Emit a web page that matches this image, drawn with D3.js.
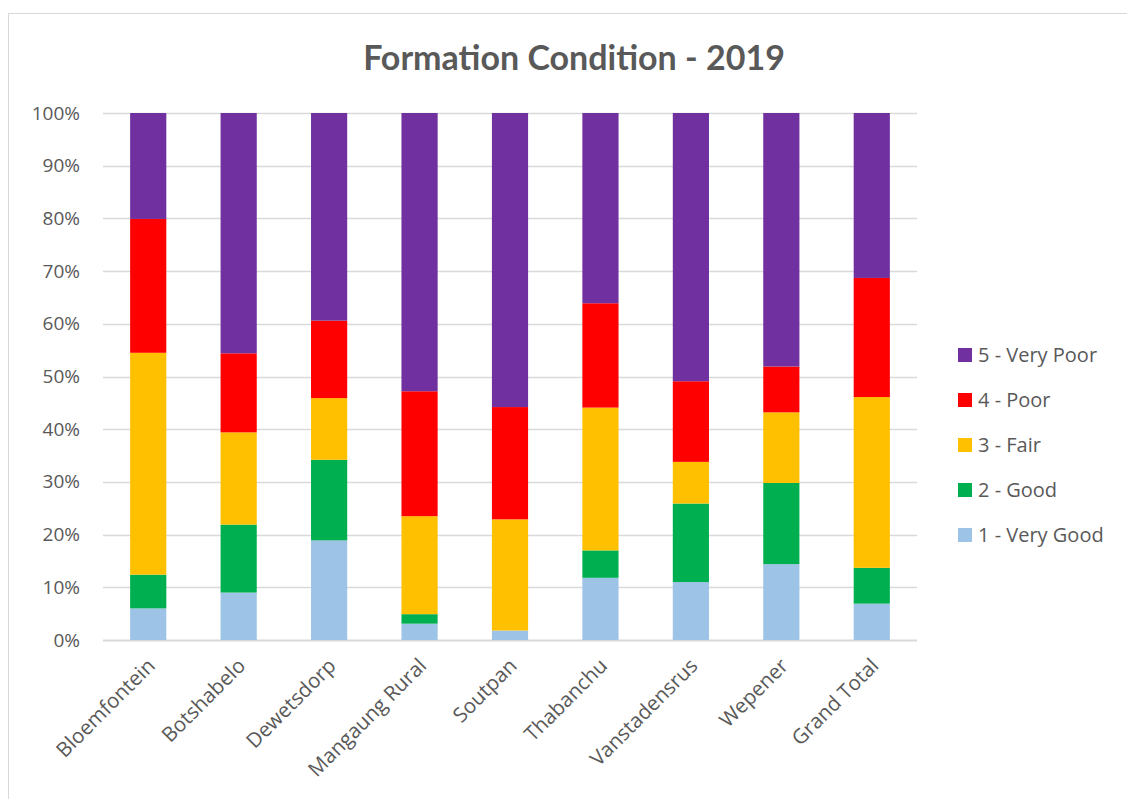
<!DOCTYPE html>
<html lang="en">
<head>
    <meta charset="UTF-8">
    <title>Formation Condition - 2019</title>
    <script src="https://d3js.org/d3.v7.min.js"></script>
    <style>
        body {
            margin: 0;
            padding: 0;
            background: white;
            font-family: 'Open Sans', Lato, sans-serif;
        }
    </style>
</head>
<body>
    <div id="chart"></div>
    <script>
        // data (percent of each town)
        var towns = ["Bloemfontein", "Botshabelo", "Dewetsdorp", "Mangaung Rural", "Soutpan",
                     "Thabanchu", "Vanstadensrus", "Wepener", "Grand Total"];
        var conditions = ["1 - Very Good", "2 - Good", "3 - Fair", "4 - Poor", "5 - Very Poor"];
        var veryGood = [6.0, 9.0, 18.9, 3.1, 1.8, 11.8, 11.0, 14.4, 6.9];
        var good     = [6.4, 12.9, 15.3, 1.8, 0.0, 5.2, 14.9, 15.4, 6.8];
        var fair     = [42.1, 17.5, 11.7, 18.6, 21.1, 27.1, 7.9, 13.4, 32.4];
        var poor     = [25.4, 15.0, 14.7, 23.7, 21.3, 19.8, 15.3, 8.7, 22.6];
        var veryPoor = [20.1, 45.6, 39.4, 52.8, 55.8, 36.1, 50.9, 48.1, 31.3];
        var yTicks = [0, 10, 20, 30, 40, 50, 60, 70, 80, 90, 100];

        var colors = ["#9DC3E6", "#00B050", "#FFC000", "#FF0000", "#7030A0"];

        var width = 1127;
        var height = 799;
        var plotLeft = 103, plotRight = 917, plotTop = 113, plotBottom = 640;

        // build rows for the stack
        var rows = towns.map(function(t, i) {
            var r = {town: t};
            r[conditions[0]] = veryGood[i];
            r[conditions[1]] = good[i];
            r[conditions[2]] = fair[i];
            r[conditions[3]] = poor[i];
            r[conditions[4]] = veryPoor[i];
            return r;
        });

        var stacked = d3.stack().keys(conditions)(rows);

        var xScale = d3.scaleBand()
            .domain(towns)
            .range([plotLeft, plotRight])
            .paddingInner(0.6)
            .paddingOuter(0.3);

        var yScale = d3.scaleLinear()
            .domain([0, 100])
            .range([plotBottom, plotTop]);

        var colorScale = d3.scaleOrdinal()
            .domain(conditions)
            .range(colors);

        var svg = d3.select("#chart").append("svg")
            .attr("width", width)
            .attr("height", height);

        // chart border
        svg.append("rect")
            .attr("x", 8.5)
            .attr("y", 13.5)
            .attr("width", width)
            .attr("height", height)
            .style("fill", "none")
            .style("stroke", "#d9d9d9")
            .style("stroke-width", 1);

        svg.append("text")
            .attr("x", 574)
            .attr("y", 70)
            .attr("text-anchor", "middle")
            .style("font-family", "Lato, sans-serif")
            .style("font-size", "34px")
            .style("font-weight", "bold")
            .style("fill", "#595959")
            .text("Formation Condition - 2019");

        // gridlines
        svg.append("g")
            .selectAll("line")
            .data(yTicks)
            .enter()
            .append("line")
            .attr("x1", plotLeft)
            .attr("x2", plotRight)
            .attr("y1", d => Math.round(yScale(d)) + 0.5)
            .attr("y2", d => Math.round(yScale(d)) + 0.5)
            .style("stroke", "#d9d9d9")
            .style("stroke-width", d => d === 0 ? 2 : 1.5);

        var yAxis = d3.axisLeft(yScale)
            .tickValues(yTicks)
            .tickFormat(d => d + "%")
            .tickSize(0)
            .tickPadding(23);

        svg.append("g")
            .attr("transform", "translate(" + plotLeft + ",0)")
            .call(yAxis)
            .call(g => g.select(".domain").remove())
            .selectAll("text")
            .style("font-family", "'Open Sans', sans-serif")
            .style("font-size", "19px")
            .style("fill", "#595959");

        // stacked bars
        svg.append("g")
            .selectAll("g")
            .data(stacked)
            .enter()
            .append("g")
            .style("fill", d => colorScale(d.key))
            .selectAll("rect")
            .data(d => d)
            .enter()
            .append("rect")
            .attr("x", d => xScale(d.data.town))
            .attr("y", d => yScale(d[1]))
            .attr("width", xScale.bandwidth())
            .attr("height", d => yScale(d[0]) - yScale(d[1]));

        // rotated category labels
        svg.append("g")
            .selectAll("text")
            .data(towns)
            .enter()
            .append("text")
            .attr("transform", d => "translate(" + (xScale(d) + xScale.bandwidth() / 2 + 3) + "," + 662 + ") rotate(-45)")
            .attr("text-anchor", "end")
            .attr("dy", "0.35em")
            .style("font-size", "20.5px")
            .style("fill", "#595959")
            .text(d => d);

        // legend, top item is 5 - Very Poor
        var legend = svg.append("g")
            .attr("transform", "translate(958, 355)");

        var legendItems = legend.selectAll("g")
            .data(conditions.slice().reverse())
            .enter()
            .append("g")
            .attr("transform", (d, i) => "translate(0," + i * 45 + ")");

        legendItems.append("rect")
            .attr("x", 0)
            .attr("y", -7)
            .attr("width", 14)
            .attr("height", 14)
            .style("fill", d => colorScale(d));

        legendItems.append("text")
            .attr("x", 20)
            .attr("y", 0)
            .attr("dy", "0.35em")
            .style("font-size", "20px")
            .style("fill", "#595959")
            .text(d => d);
    </script>
</body>
</html>
